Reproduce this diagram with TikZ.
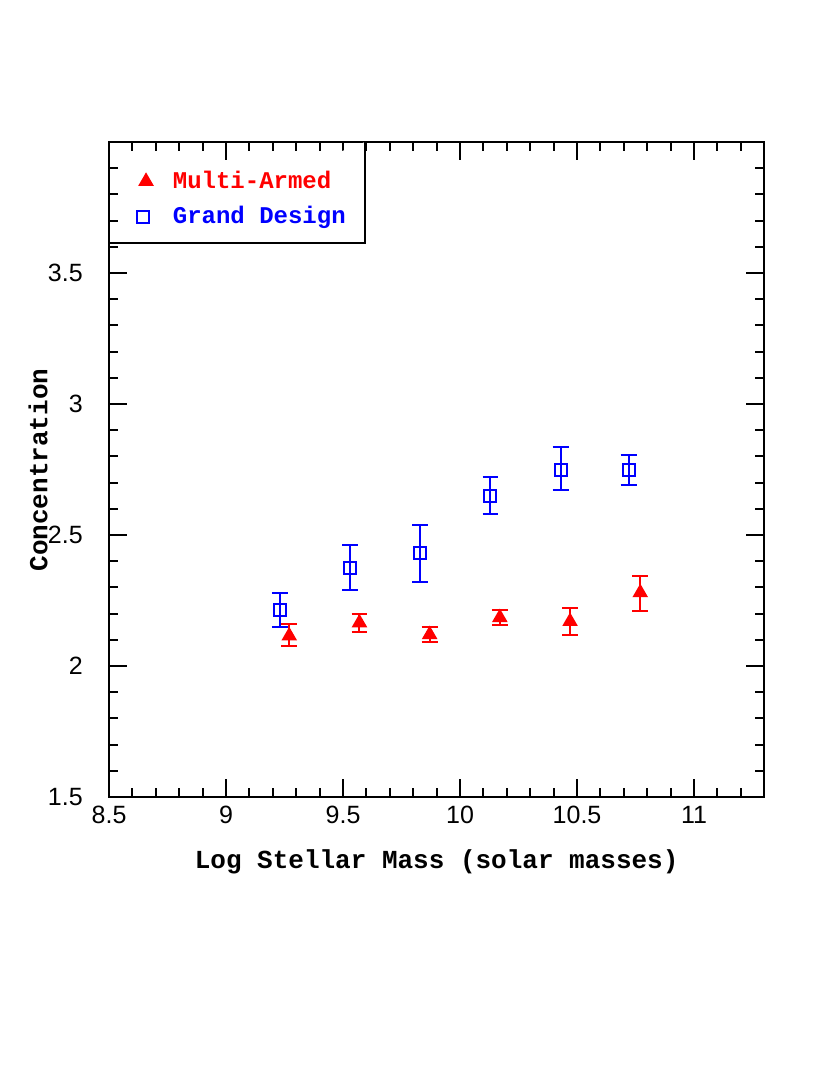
\documentclass[tikz,border=0pt]{standalone}
\usepackage{fontspec}
\setmainfont{Liberation Sans}
\newfontfamily\labfont{Liberation Mono}
\begin{document}
\begin{tikzpicture}[x=117pt,y=131pt,line width=1pt,
  numlab/.style={font=\fontsize{12.5}{14}\selectfont},
  axlab/.style={font=\labfont\bfseries\fontsize{13}{15}\selectfont},
  leglab/.style={font=\labfont\bfseries\fontsize{12}{14}\selectfont,anchor=west},
  gd/.style={draw=blue,line width=1pt,rectangle,minimum size=6pt,inner sep=0pt},
  ma/.style={fill=red,regular polygon,regular polygon sides=3,minimum size=9pt,inner sep=0pt}]
\useasboundingbox (8.034,0.439) rectangle (11.581,4.542);
\usetikzlibrary{shapes.geometric}
% frame
\draw (8.5,1.5) rectangle (11.3,4.0);
% x ticks
\foreach \i in {0,...,28}{
  \pgfmathsetmacro\xx{8.5+\i/10}
  \pgfmathtruncatemacro\m{mod(\i,5)}
  \ifnum\m=0
    \draw (\xx,1.5) -- ++(0,0.069); \draw (\xx,4.0) -- ++(0,-0.069);
  \else
    \draw (\xx,1.5) -- ++(0,0.034); \draw (\xx,4.0) -- ++(0,-0.034);
  \fi}
\foreach \i in {0,...,25}{
  \pgfmathsetmacro\yy{1.5+\i/10}
  \pgfmathtruncatemacro\m{mod(\i,5)}
  \ifnum\m=0
    \draw (8.5,\yy) -- ++(0.077,0); \draw (11.3,\yy) -- ++(-0.077,0);
  \else
    \draw (8.5,\yy) -- ++(0.038,0); \draw (11.3,\yy) -- ++(-0.038,0);
  \fi}
\foreach \v in {8.5,9,9.5,10,10.5,11} \node[numlab] (xl\v) at (\v,1.43) {\v};
\foreach \v in {1.5,2,2.5,3,3.5} \node[numlab,anchor=east] (yl\v) at (8.42,\v) {\v};
\node[axlab] (xlab) at (9.9,1.252) {Log Stellar Mass (solar masses)};
\node[axlab,rotate=90] (ylab) at (8.197,2.748) {Concentration};
% legend
\draw[fill=white] (8.5,3.615) -- (9.594,3.615) -- (9.594,4.0);
\node[ma] (lma) at (8.658,3.85) {};
\node[gd] (lgd) at (8.645,3.714) {};
\node[leglab,text=red] (tma) at (8.74,3.855) {Multi-Armed};
\node[leglab,text=blue] (tgd) at (8.74,3.714) {Grand Design};
% error bars
\foreach \x/\y/\lo/\hi [count=\k] in {9.23/2.215/2.15/2.28, 9.53/2.375/2.29/2.46, 9.83/2.43/2.32/2.54, 10.13/2.65/2.58/2.72, 10.43/2.75/2.67/2.835, 10.72/2.75/2.69/2.805}{
  \draw[blue] (\x-0.034,\lo) -- (\x+0.034,\lo) (\x-0.034,\hi) -- (\x+0.034,\hi) (\x,\lo) -- (\x,\hi);
  \node[gd,fill=white] (g\k) at (\x,\y) {};
  \draw[blue] (g\k.north) -- (g\k.south);}
\foreach \x/\y/\lo/\hi [count=\k] in {9.27/2.115/2.075/2.16, 9.57/2.165/2.13/2.20, 9.87/2.12/2.09/2.15, 10.17/2.185/2.155/2.215, 10.47/2.17/2.12/2.22, 10.77/2.28/2.21/2.345}{
  \draw[red] (\x-0.034,\lo) -- (\x+0.034,\lo) (\x-0.034,\hi) -- (\x+0.034,\hi) (\x,\lo) -- (\x,\hi);
  \node[ma] (m\k) at (\x,\y) {};}
\end{tikzpicture}
\end{document}
